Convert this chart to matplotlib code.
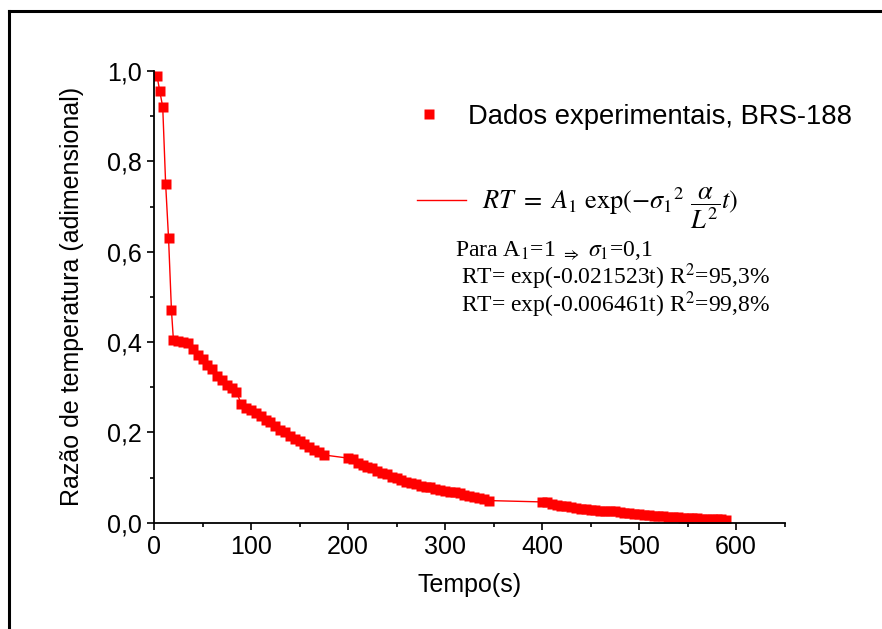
import matplotlib
matplotlib.use("Agg")
from matplotlib import pyplot as plt
from matplotlib.lines import Line2D
from matplotlib.ticker import MultipleLocator, FuncFormatter
import numpy as np

plt.rcParams["font.family"] = ["Liberation Sans", "DejaVu Sans"]
plt.rcParams["mathtext.fontset"] = "stix"

t_start = [3, 6, 9, 12, 15, 18]
rt_start = [0.99, 0.955, 0.92, 0.75, 0.63, 0.47]

t_a = [20, 25, 30, 35, 40, 45, 50, 55, 60, 65, 70, 75, 80, 85, 90, 95,
       100, 105, 110, 115, 120, 125, 130, 135, 140, 145, 150, 155, 160,
       165, 170, 175]
rt_a = [0.405, 0.402, 0.400, 0.398, 0.385, 0.372, 0.362, 0.350, 0.340,
        0.325, 0.315, 0.305, 0.298, 0.290, 0.262, 0.255, 0.250, 0.242,
        0.236, 0.228, 0.222, 0.215, 0.206, 0.200, 0.193, 0.186, 0.180,
        0.174, 0.168, 0.162, 0.156, 0.150]

t_b = [200, 205, 210, 215, 220, 225, 230, 235, 240, 245, 250, 255, 260,
       265, 270, 275, 280, 285, 290, 295, 300, 305, 310, 315, 320, 325,
       330, 335, 340, 345]
rt_b = [0.143, 0.140, 0.132, 0.128, 0.124, 0.120, 0.115, 0.111, 0.107,
        0.102, 0.098, 0.094, 0.091, 0.088, 0.085, 0.082, 0.080, 0.078,
        0.075, 0.073, 0.071, 0.069, 0.067, 0.065, 0.062, 0.060, 0.058,
        0.055, 0.052, 0.049]

t_c = [400, 405, 410, 415, 420, 425, 430, 435, 440, 445, 450, 455, 460,
       465, 470, 475, 480, 485, 490, 495, 500, 505, 510, 515, 520, 525,
       530, 535, 540, 545, 550, 555, 560, 565, 570, 575, 580, 585, 590]
rt_c = [0.046, 0.045, 0.042, 0.039, 0.037, 0.036, 0.034, 0.033, 0.031,
        0.030, 0.029, 0.028, 0.027, 0.026, 0.025, 0.025, 0.024, 0.022,
        0.021, 0.020, 0.019, 0.018, 0.016, 0.015, 0.014, 0.014, 0.013,
        0.013, 0.012, 0.011, 0.011, 0.010, 0.010, 0.009, 0.009, 0.009,
        0.008, 0.008, 0.007]

# connecting curve starts at t=0, RT=1
t_line0 = [0]
rt_line0 = [1.0]

t = np.array(t_start + t_a + t_b + t_c)
rt = np.array(rt_start + rt_a + rt_b + rt_c)

label_data = "Dados experimentais, BRS-188"
label_fit = r"$RT\ =\ A_1\ \exp(-\sigma_1{}^2\ \dfrac{\alpha}{L^2}t)$"
notes = [
    r"Para A$_1$=1 $_{\Rightarrow}$ $\sigma_1$=0,1",
    r"RT= exp(-0.021523t) R$^2$=95,3%",
    r"RT= exp(-0.006461t) R$^2$=99,8%",
]

# ------------------------------------------------------------------- figure
W, H = 882, 629
fig = plt.figure(figsize=(W / 100, H / 100), dpi=100)
ax = fig.add_axes([154 / W, (H - 522.7) / H, 630.5 / W, 451.7 / H])

(ln,) = ax.plot(np.concatenate([t_line0, t]), np.concatenate([rt_line0, rt]),
                "-", c="#ff0000", lw=1)
(sc,) = ax.plot(t, rt, "s", c="#ff0000", ms=7, mec="none")

ax.set_xlim(0, 650)
ax.set_ylim(0, 1.0)
ax.xaxis.set_major_locator(MultipleLocator(100))
ax.xaxis.set_minor_locator(MultipleLocator(50))
ax.yaxis.set_major_locator(MultipleLocator(0.2))
ax.yaxis.set_minor_locator(MultipleLocator(0.1))
ax.yaxis.set_major_formatter(FuncFormatter(lambda v, p: f"{v:.1f}".replace(".", ",")))

for s in ["top", "right"]:
    ax.spines[s].set_visible(False)
for s in ["left", "bottom"]:
    ax.spines[s].set_linewidth(1.3)
ax.tick_params(which="major", direction="out", length=5, width=1.2, labelsize=18, pad=4)
ax.tick_params(which="minor", direction="out", length=3, width=1.2)
ax.patch.set_visible(False)

ax.set_xlabel("Tempo(s)", fontsize=18, labelpad=10)
ax.set_ylabel("Razão de temperatura (adimensional)", fontsize=18, labelpad=16)

# legends
leg1 = ax.legend([sc], [label_data], loc="center left", bbox_to_anchor=(0.417, 0.898),
                 frameon=False, fontsize=19.7, handlelength=0.88, handletextpad=1.0,
                 borderpad=0, borderaxespad=0, numpoints=1)
ax.add_artist(leg1)
leg2 = ax.legend([ln], [label_fit], loc="center left", bbox_to_anchor=(0.417, 0.697),
                 frameon=False, fontsize=19, handlelength=1.86, handletextpad=0.6,
                 borderpad=0, borderaxespad=0)

note_pos = [(0.4774, 0.588), (0.487, 0.528), (0.487, 0.467)]
for txt, (x, y) in zip(notes, note_pos):
    ax.text(x, y, txt, transform=ax.transAxes, fontsize=17, va="baseline",
            family=["Liberation Serif", "DejaVu Serif"])

# outer frame
fig.add_artist(Line2D([9 / W, 9 / W], [0, 1 - 11 / H], transform=fig.transFigure, c="k", lw=2.2))
fig.add_artist(Line2D([9 / W, 1], [1 - 11 / H, 1 - 11 / H], transform=fig.transFigure, c="k", lw=2.2))

fig.savefig("out.png", dpi=100)
